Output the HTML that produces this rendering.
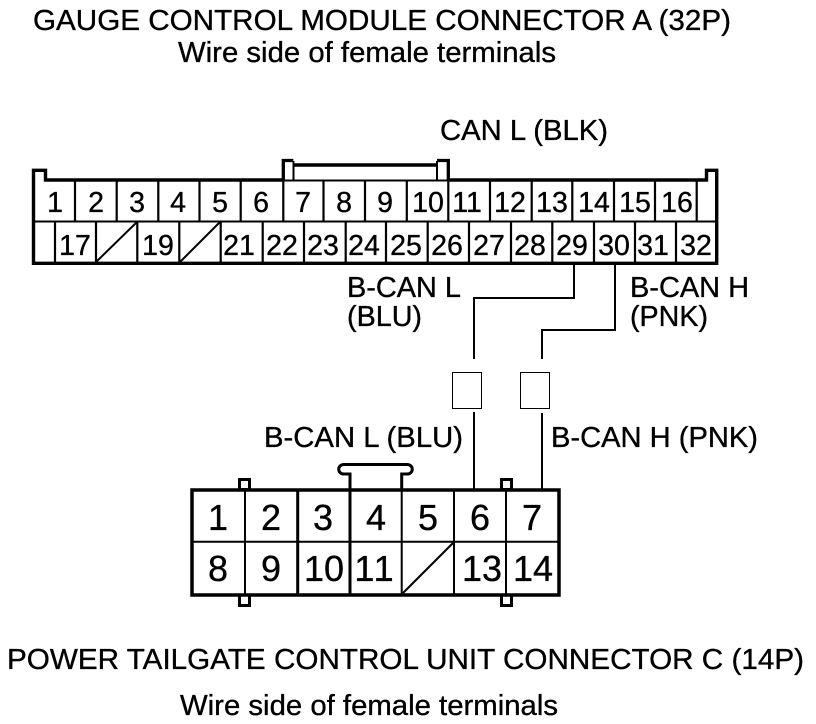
<!DOCTYPE html>
<html><head><meta charset="utf-8"><style>
html,body{margin:0;padding:0;background:#fff}
svg{display:block}
text{font-family:"Liberation Sans",Arial,sans-serif;fill:#000;stroke:#000;stroke-width:.35px}
.t{font-size:29px}
.n{font-size:28.5px;text-anchor:middle}
.m{font-size:36px;text-anchor:middle}
</style></head><body>
<svg width="816" height="724" viewBox="0 0 816 724" xmlns="http://www.w3.org/2000/svg">
<rect width="816" height="724" fill="#fff"/>
<g>
<text class="t" x="33" y="30" textLength="698" lengthAdjust="spacingAndGlyphs">GAUGE CONTROL MODULE CONNECTOR A (32P)</text>
<text class="t" x="178" y="62" textLength="378" lengthAdjust="spacingAndGlyphs">Wire side of female terminals</text>
<text class="t" x="440" y="140" textLength="168" lengthAdjust="spacingAndGlyphs">CAN L (BLK)</text>
<text class="t" x="347" y="297" textLength="114" lengthAdjust="spacingAndGlyphs">B-CAN L</text>
<text class="t" x="347" y="326" textLength="75" lengthAdjust="spacingAndGlyphs">(BLU)</text>
<text class="t" x="630" y="297" textLength="119" lengthAdjust="spacingAndGlyphs">B-CAN H</text>
<text class="t" x="630" y="326" textLength="78" lengthAdjust="spacingAndGlyphs">(PNK)</text>
<text class="t" x="264" y="447" textLength="199" lengthAdjust="spacingAndGlyphs">B-CAN L (BLU)</text>
<text class="t" x="551" y="447" textLength="207" lengthAdjust="spacingAndGlyphs">B-CAN H (PNK)</text>
<text class="t" x="7" y="669" textLength="797" lengthAdjust="spacingAndGlyphs">POWER TAILGATE CONTROL UNIT CONNECTOR C (14P)</text>
<text class="t" x="180" y="715" textLength="378" lengthAdjust="spacingAndGlyphs">Wire side of female terminals</text>
</g>

<!-- upper connector outline -->
<g fill="none" stroke="#000">
<path d="M283.300 180.500H448.300" stroke-width="2"/>
<path d="M293.500 161V180M437 161V180" stroke-width="2"/>
<path d="M283.300 180V160.500H293.300M437 160.500H448.300V180" stroke-width="3.300"/>
<path d="M293 165H437" stroke-width="3.400"/>
<path d="M283.300 180H45.500V170.300H33.500V263.300H716.700V170.300H706.500V180H448.300" stroke-width="3.400"/>
<path d="M33 221.500H716" stroke-width="2"/>
<path d="M75 181V221M116.700 181V221M158.300 181V221M199.500 181V221M240.700 181V221M283.300 181V221M323.500 181V221M365 181V221M406.800 181V221M448.300 181V221M490 181V221M531.700 181V221M572.300 181V221M614 181V221M655 181V221M696.700 181V221" stroke-width="2.200"/>
<path d="M55 221V263M96 221V263M137.300 221V263M179.300 221V263M220.700 221V263M262.700 221V263M304 221V263M345.700 221V263M386 221V263M427.700 221V263M469 221V263M511 221V263M552.300 221V263M594 221V263M635 221V263M676 221V263" stroke-width="2.200"/>
<path d="M96 262L137 222M180 262L220 222" stroke-width="2"/>
</g>
<g>
<text class="n" x="55" y="212">1</text><text class="n" x="96" y="212">2</text><text class="n" x="137" y="212">3</text><text class="n" x="178" y="212">4</text><text class="n" x="220" y="212">5</text><text class="n" x="261" y="212">6</text><text class="n" x="303" y="212">7</text><text class="n" x="344" y="212">8</text><text class="n" x="385" y="212">9</text><text class="n" x="428" y="212">10</text><text class="n" x="467" y="212">11</text><text class="n" x="510" y="212">12</text><text class="n" x="552" y="212">13</text><text class="n" x="594" y="212">14</text><text class="n" x="635" y="212">15</text><text class="n" x="677" y="212">16</text>
<text class="n" x="75" y="255">17</text><text class="n" x="158" y="255">19</text><text class="n" x="239" y="255">21</text><text class="n" x="282" y="255">22</text><text class="n" x="323" y="255">23</text><text class="n" x="364" y="255">24</text><text class="n" x="406" y="255">25</text><text class="n" x="447" y="255">26</text><text class="n" x="489" y="255">27</text><text class="n" x="530" y="255">28</text><text class="n" x="572" y="255">29</text><text class="n" x="614" y="255">30</text><text class="n" x="653" y="255">31</text><text class="n" x="696" y="255">32</text>
</g>

<!-- wires -->
<g fill="none" stroke="#000" stroke-width="2">
<path d="M574 265V298H474V359"/>
<path d="M615 265V330H542V359"/>
<path d="M474 412V489"/>
<path d="M542 413V489"/>
</g>
<rect x="452.500" y="372.500" width="29" height="36" fill="#fff" stroke="#000" stroke-width="1"/>
<rect x="520.500" y="372.500" width="29" height="36" fill="#fff" stroke="#000" stroke-width="1"/>

<!-- lower connector -->
<g fill="none" stroke="#000">
<rect x="239.500" y="479.500" width="10" height="10" stroke-width="3"/>
<rect x="501.500" y="479.500" width="10" height="10" stroke-width="3"/>
<rect x="239.500" y="595" width="10" height="10.500" stroke-width="3"/>
<rect x="501.500" y="595" width="10" height="10.500" stroke-width="3"/>
<rect x="192" y="490" width="367" height="105" stroke-width="3.500"/>
<path d="M350 489V474H344C337 474 337 464.500 344 464.500H407C414 464.500 414 474 407 474H401.700V489" stroke-width="3"/>
<path d="M191 541.700H559" stroke-width="2"/>
<path d="M297.700 490V595M350 490V595" stroke-width="3"/>
<path d="M245 490V595M401.700 490V595M454 490V595M506 490V595" stroke-width="2"/>
<path d="M403 593L453 543" stroke-width="2"/>
</g>
<g>
<text class="m" x="218" y="530">1</text><text class="m" x="271" y="530">2</text><text class="m" x="323" y="530">3</text><text class="m" x="376" y="530">4</text><text class="m" x="428" y="530">5</text><text class="m" x="480" y="530">6</text><text class="m" x="532" y="530">7</text>
<text class="m" x="218" y="581">8</text><text class="m" x="271" y="581">9</text><text class="m" x="324" y="581">10</text><text class="m" x="375" y="581" letter-spacing="2">11</text><text class="m" x="482" y="581">13</text><text class="m" x="533" y="581">14</text>
</g>
</svg>
</body></html>
